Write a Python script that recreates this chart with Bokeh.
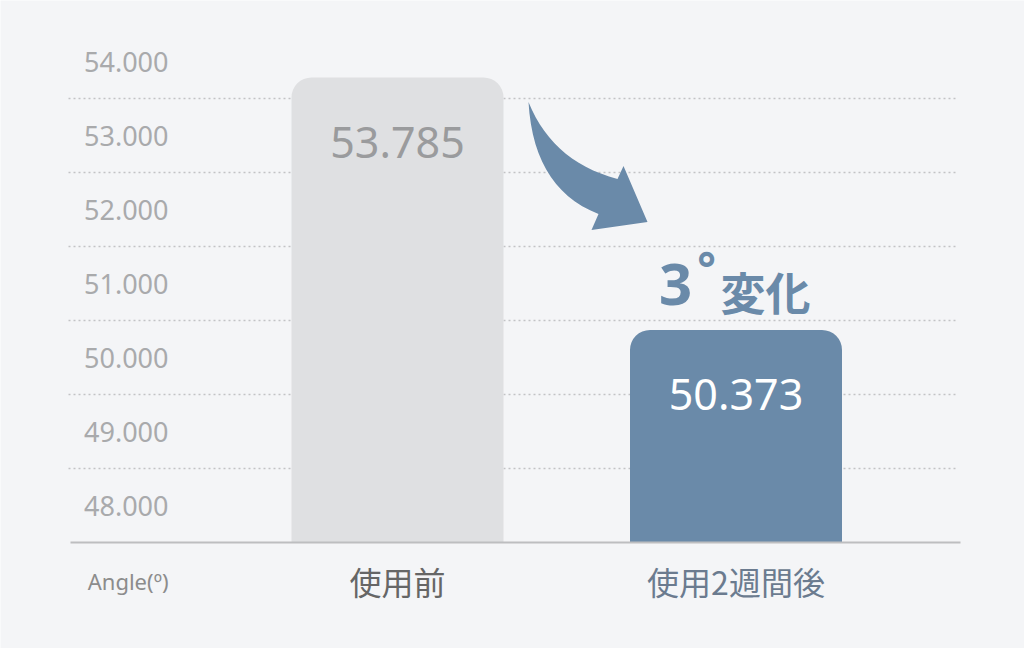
import numpy as np
from bokeh.plotting import figure
from bokeh.models import Range1d
from bokeh.core.properties import value
from bokeh.embed import file_html
from bokeh.resources import INLINE

# data
categories = ["使用前", "使用2週間後"]
angles = [53.785, 50.373]
angle_labels = ["53.785", "50.373"]
y_ticks = [48, 49, 50, 51, 52, 53, 54]
y_tick_labels = ["48.000", "49.000", "50.000", "51.000", "52.000", "53.000", "54.000"]
unit_label = "Angle(º)"
change_word = "変化"

BG = "#f4f5f7"
BLUE = "#6a8aa9"
GRAY_BAR = "#dfe0e2"
NUM_FONT = value("Noto Sans")
JP_FONT = value("Noto Sans CJK JP")

W, H = 1024, 648
BASE = 47.5      # value at the baseline
BASE_PX = 542    # baseline position from the top
PX = 74.0        # pixels per degree
X0_PX = 397      # centre of the first bar
XPX = 338.5      # pixels between the two bars

xs = list(range(len(categories)))

def gx(px):
    return (px - X0_PX) / XPX

p = figure(width=W, height=H,
           x_range=Range1d(gx(0), gx(W)),
           y_range=Range1d(BASE - (H - BASE_PX) / PX, BASE + BASE_PX / PX),
           x_axis_location=None, y_axis_location=None,
           output_backend="svg", toolbar_location=None,
           min_border=0)
p.background_fill_color = BG
p.border_fill_color = BG
p.outline_line_color = None
p.grid.visible = False

# dotted grid sits halfway between the tick labels
grid_y = [t + 0.5 for t in y_ticks[:-1]]
p.segment(x0=[gx(68)] * len(grid_y), x1=[gx(958)] * len(grid_y),
          y0=grid_y, y1=grid_y,
          line_color="#c2c3c5", line_dash="2 3", line_width=1.5)

p.vbar(x=xs, top=angles, bottom=BASE, width=212 / XPX,
       fill_color=[GRAY_BAR, BLUE], line_color=None,
       border_radius=(20, 20, 0, 0))

# baseline
p.segment(x0=[gx(70)], x1=[gx(960)], y0=[BASE], y1=[BASE],
          line_color="#bdbec0", line_width=2)

# y tick labels, drawn inside the frame
p.text(x=[gx(168)] * len(y_ticks), y=y_ticks, text=y_tick_labels,
       text_align="right", text_baseline="middle",
       text_font=NUM_FONT, text_font_size="27px", text_color="#a9aaac")

# value labels inside the bars
p.text(x=xs, y=[a - 65 / PX for a in angles], text=angle_labels,
       text_align="center", text_baseline="middle",
       text_font=NUM_FONT, text_font_size="43px",
       text_color=["#9a9b9d", "#ffffff"])

# category labels + unit
lab_y = BASE - 38 / PX
p.text(x=xs, y=[lab_y] * len(xs), text=categories,
       text_align="center", text_baseline="middle",
       text_font=JP_FONT, text_font_size="32px",
       text_color=["#666666", "#6b7b8f"])
p.text(x=[gx(168)], y=[lab_y], text=[unit_label],
       text_align="right", text_baseline="middle",
       text_font=NUM_FONT, text_font_size="22px", text_color="#8c8c8c")

# "3° 変化" above the second bar
diff = int(angles[0] - angles[1])
top2 = angles[1]
x2 = 1 + (0 - 735.5) / XPX  # offset helper for the second bar
p.text(x=[x2 + 675 / XPX], y=[top2 + 45 / PX], text=[str(diff)],
       text_align="center", text_baseline="middle",
       text_font=NUM_FONT, text_font_style="bold",
       text_font_size="58px", text_color=BLUE)
p.text(x=[x2 + 706 / XPX], y=[top2 + 63 / PX], text=["°"],
       text_align="center", text_baseline="middle",
       text_font=NUM_FONT, text_font_style="bold",
       text_font_size="44px", text_color=BLUE)
p.text(x=[x2 + 765 / XPX], y=[top2 + 38 / PX], text=[change_word],
       text_align="center", text_baseline="middle",
       text_font=JP_FONT, text_font_style="bold",
       text_font_size="45px", text_color=BLUE)

# curved arrow between the bars (pixel offsets from the top of bar 2)
def to_xy(sx, sy):
    return x2 + sx / XPX, top2 + (373 - sy) / PX

def quad(p0, c, p2, n=16):
    t = np.linspace(0, 1, n)
    qx = (1 - t) ** 2 * p0[0] + 2 * (1 - t) * t * c[0] + t ** 2 * p2[0]
    qy = (1 - t) ** 2 * p0[1] + 2 * (1 - t) * t * c[1] + t ** 2 * p2[1]
    return list(qx), list(qy)

ox, oy = quad((528, 145), (552, 205), (617, 222))
ix, iy = quad((528, 145), (533, 232), (598, 257))
sx = ox + [623, 647, 591] + ix[::-1]
sy = oy + [209, 265, 273] + iy[::-1]
ax, ay = zip(*[to_xy(a, b) for a, b in zip(sx, sy)])
p.patch(list(ax), list(ay), fill_color=BLUE, line_color=None)

open("out.html", "w").write(file_html(p, INLINE))
